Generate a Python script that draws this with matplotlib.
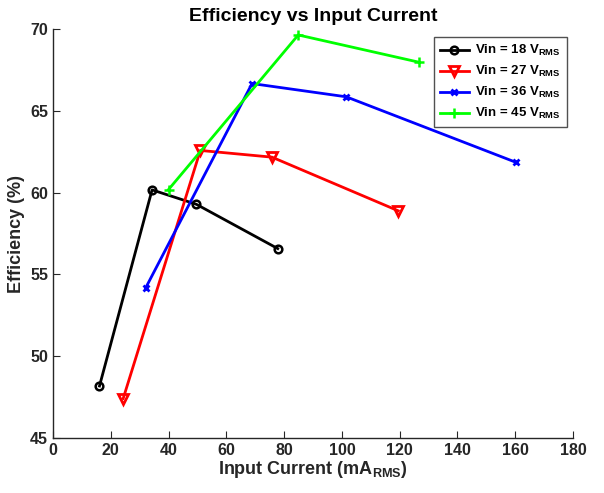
import numpy as np
import matplotlib
matplotlib.use('Agg')
import matplotlib.pyplot as plt

# Input current (mA RMS) and efficiency (%) per input voltage
i_18 = [16.1, 34.3, 49.6, 77.8]
eff_18 = [48.18, 60.17, 59.29, 56.58]
i_27 = [24.3, 51.0, 75.8, 119.5]
eff_27 = [47.41, 62.58, 62.17, 58.89]
i_36 = [32.1, 68.9, 101.5, 160.3]
eff_36 = [54.18, 66.67, 65.86, 61.85]
i_45 = [40.0, 84.9, 126.8]
eff_45 = [60.19, 69.64, 67.97]

x_ticks = [0, 20, 40, 60, 80, 100, 120, 140, 160, 180]
y_ticks = [45, 50, 55, 60, 65, 70]

plt.rcParams['font.family'] = ['Liberation Sans', 'DejaVu Sans']
plt.rcParams['font.weight'] = 'bold'
plt.rcParams['mathtext.fontset'] = 'custom'
plt.rcParams['mathtext.rm'] = 'Liberation Sans:bold'
plt.rcParams['mathtext.it'] = 'Liberation Sans:bold'
plt.rcParams['mathtext.bf'] = 'Liberation Sans:bold'

fig = plt.figure(figsize=(6.04, 4.93), dpi=100)
ax = fig.add_axes([0.0877, 0.1116, 0.8610, 0.8294])

axc = '#262626'
ax.plot(i_18, eff_18, color='black', lw=2, marker='o', ms=5.5,
        mfc='none', mew=1.8, label=r'Vin = 18 V$_{\mathregular{RMS}}$')
ax.plot(i_27, eff_27, color='red', lw=2, marker='v', ms=6.5,
        mfc='none', mew=2, label=r'Vin = 27 V$_{\mathregular{RMS}}$')
ax.plot(i_36, eff_36, color='blue', lw=2, marker='x', ms=5,
        mew=2, label=r'Vin = 36 V$_{\mathregular{RMS}}$')
ax.plot(i_45, eff_45, color='#00ff00', lw=2, marker='+', ms=7,
        mew=1.8, label=r'Vin = 45 V$_{\mathregular{RMS}}$')

ax.set_xlim(0, 180); ax.set_ylim(45, 70)
ax.set_xticks(x_ticks); ax.set_yticks(y_ticks)
ax.tick_params(direction='in', length=5, colors=axc, labelsize=11.5, width=0.8)
for s in ['top', 'right']:
    ax.spines[s].set_visible(False)
for s in ['left', 'bottom']:
    ax.spines[s].set_color(axc)
    ax.spines[s].set_linewidth(1.0)

ax.set_xlabel(r'Input Current (mA$_{\mathregular{RMS}}$)', fontsize=13,
              fontweight='bold', color=axc, labelpad=1)
ax.set_ylabel('Efficiency (%)', fontsize=13, fontweight='bold', color=axc, labelpad=4)
ax.set_title('Efficiency vs Input Current', fontsize=14, fontweight='bold', pad=6)

leg = ax.legend(loc='upper right', bbox_to_anchor=(0.988, 0.98), borderaxespad=0,
                fontsize=9.5, frameon=True, fancybox=False, edgecolor=axc,
                handlelength=2.2, borderpad=0.45, labelspacing=0.45, handletextpad=0.5)
leg.get_frame().set_linewidth(1.0)

fig.savefig('out.png', dpi=100)
